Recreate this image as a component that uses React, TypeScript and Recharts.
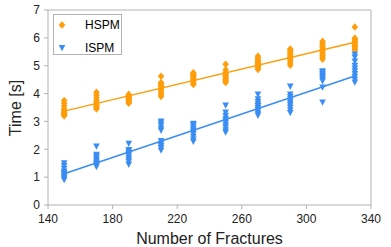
import { ScatterChart, Scatter, XAxis, YAxis, Legend, ReferenceLine } from "recharts";

// fracture counts along the x axis
const fractures = [150, 170, 190, 210, 230, 250, 270, 290, 310, 330];

// run times [s] for each fracture count
const hspmTimes = [
  [3.2, 3.25, 3.28, 3.3, 3.33, 3.38, 3.45, 3.55, 3.65, 3.75],
  [3.45, 3.5, 3.55, 3.58, 3.62, 3.68, 3.75, 3.85, 3.95, 4.05],
  [3.65, 3.7, 3.73, 3.77, 3.8, 3.83, 3.87, 3.9, 3.93, 3.97],
  [3.9, 3.97, 4.05, 4.12, 4.18, 4.25, 4.3, 4.35, 4.4, 4.62],
  [4.33, 4.38, 4.45, 4.5, 4.55, 4.6, 4.65, 4.68, 4.72, 4.75],
  [4.4, 4.45, 4.5, 4.55, 4.6, 4.65, 4.7, 4.75, 4.85, 5.05],
  [4.87, 4.92, 4.97, 5.0, 5.05, 5.1, 5.15, 5.2, 5.27, 5.34],
  [5.02, 5.1, 5.18, 5.25, 5.3, 5.35, 5.42, 5.48, 5.55, 5.6],
  [5.23, 5.3, 5.38, 5.45, 5.52, 5.58, 5.65, 5.72, 5.8, 5.88],
  [5.56, 5.62, 5.68, 5.73, 5.78, 5.83, 5.88, 5.93, 5.99, 6.39],
];

const ispmTimes = [
  [0.9, 0.95, 1.0, 1.05, 1.1, 1.15, 1.2, 1.3, 1.4, 1.5],
  [1.37, 1.42, 1.47, 1.5, 1.55, 1.62, 1.7, 1.75, 1.8, 2.1],
  [1.45, 1.55, 1.62, 1.7, 1.78, 1.83, 1.87, 1.92, 1.97, 2.2],
  [1.96, 2.05, 2.12, 2.2, 2.3, 2.67, 2.75, 2.85, 2.93, 3.0],
  [2.27, 2.35, 2.45, 2.55, 2.62, 2.68, 2.75, 2.82, 2.88, 2.92],
  [2.6, 2.68, 2.78, 2.86, 2.95, 3.02, 3.1, 3.2, 3.32, 3.57],
  [3.21, 3.28, 3.35, 3.42, 3.48, 3.55, 3.62, 3.7, 3.8, 3.97],
  [3.3, 3.4, 3.5, 3.58, 3.65, 3.72, 3.8, 3.88, 3.97, 4.25],
  [3.68, 4.22, 4.44, 4.5, 4.55, 4.6, 4.65, 4.7, 4.77, 4.8],
  [4.4, 4.5, 4.6, 4.7, 4.8, 4.9, 5.0, 5.15, 5.3, 5.4],
];

// linear trend end points (x, y) as drawn in the figure
const trendX = [150, 330];
const hspmTrend = [3.37, 5.84];
const ispmTrend = [1.12, 4.63];

const xTicks = [140, 180, 220, 260, 300, 340];
const yTicks = [0, 1, 2, 3, 4, 5, 6, 7];

const ORANGE = "#ff9d0b";
const BLUE = "#3a8df3";
const AXIS = "#b3b3b3";
const FONT = "'Liberation Sans', Arial, sans-serif";

const toPoints = (rows: number[][]) =>
  fractures.flatMap((x, i) => rows[i].map((y) => ({ x, y })));

const hspmData = toPoints(hspmTimes);
const ispmData = toPoints(ispmTimes);
const hspmLine = trendX.map((x, i) => ({ x, y: hspmTrend[i] }));
const ispmLine = trendX.map((x, i) => ({ x, y: ispmTrend[i] }));

const Diamond = ({ cx, cy }: any) => (
  <polygon
    points={`${cx},${cy - 3.8} ${cx + 3.3},${cy} ${cx},${cy + 3.8} ${cx - 3.3},${cy}`}
    fill={ORANGE}
  />
);

const TriDown = ({ cx, cy }: any) => (
  <polygon
    points={`${cx - 3.3},${cy - 3} ${cx + 3.3},${cy - 3} ${cx},${cy + 3.3}`}
    fill={BLUE}
  />
);

const NoDot = () => <g />;

function LegendBox({ payload }: any) {
  const items = (payload || []).filter((p: any) => p.type !== "none");
  return (
    <div
      style={{
        width: 67,
        height: 39,
        border: `1px solid ${AXIS}`,
        background: "#fff",
        fontFamily: FONT,
        fontSize: 12,
        color: "#000",
        position: "relative",
      }}
    >
      {items.map((p: any, i: number) => (
        <div
          key={p.value}
          style={{ position: "absolute", left: 0, top: 3 + i * 22.5, height: 14, display: "flex", alignItems: "center" }}
        >
          <svg width={20} height={14} style={{ display: "block" }}>
            {p.value === "HSPM" ? <Diamond cx={8} cy={7} /> : <TriDown cx={8} cy={7} />}
          </svg>
          <span style={{ marginLeft: 11 }}>{p.value}</span>
        </div>
      ))}
    </div>
  );
}

export default function App() {
  return (
    <div style={{ position: "absolute", left: 0, top: 0, width: 391, height: 247, background: "#fff" }}>
      <ScatterChart width={391} height={247} margin={{ top: 10, right: 20, bottom: 0, left: 0 }}>
        <XAxis
          type="number"
          dataKey="x"
          domain={[140, 340]}
          ticks={xTicks}
          height={42}
          stroke={AXIS}
          tickSize={4}
          tickMargin={5}
          tick={{ fontSize: 12, fill: "#222", fontFamily: FONT }}
          label={{ value: "Number of Fractures", position: "insideBottom", offset: 3, fontSize: 16, fill: "#222", fontFamily: FONT }}
        />
        <YAxis
          type="number"
          dataKey="y"
          domain={[0, 7]}
          ticks={yTicks}
          width={48}
          stroke={AXIS}
          tickSize={4}
          tickMargin={4}
          tick={{ fontSize: 12, fill: "#222", fontFamily: FONT }}
          label={{
            content: () => (
              <text
                x={15}
                y={108}
                transform="rotate(-90 15 108)"
                textAnchor="middle"
                dominantBaseline="central"
                fontSize={16}
                fill="#222"
                fontFamily={FONT}
              >
                Time [s]
              </text>
            ),
          }}
        />
        <ReferenceLine y={7} stroke={AXIS} />
        <ReferenceLine x={340} stroke={AXIS} />
        <Legend
          layout="vertical"
          align="center"
          verticalAlign="middle"
          content={<LegendBox />}
          wrapperStyle={{ position: "absolute", left: 53, top: 14, width: 69, height: 41 }}
        />
        <Scatter name="HSPM trend" data={hspmLine} line={{ stroke: ORANGE, strokeWidth: 1.5 }} shape={NoDot} legendType="none" isAnimationActive={false} />
        <Scatter name="ISPM trend" data={ispmLine} line={{ stroke: BLUE, strokeWidth: 1.5 }} shape={NoDot} legendType="none" isAnimationActive={false} />
        <Scatter name="HSPM" data={hspmData} fill={ORANGE} shape={Diamond} isAnimationActive={false} />
        <Scatter name="ISPM" data={ispmData} fill={BLUE} shape={TriDown} isAnimationActive={false} />
      </ScatterChart>
    </div>
  );
}
